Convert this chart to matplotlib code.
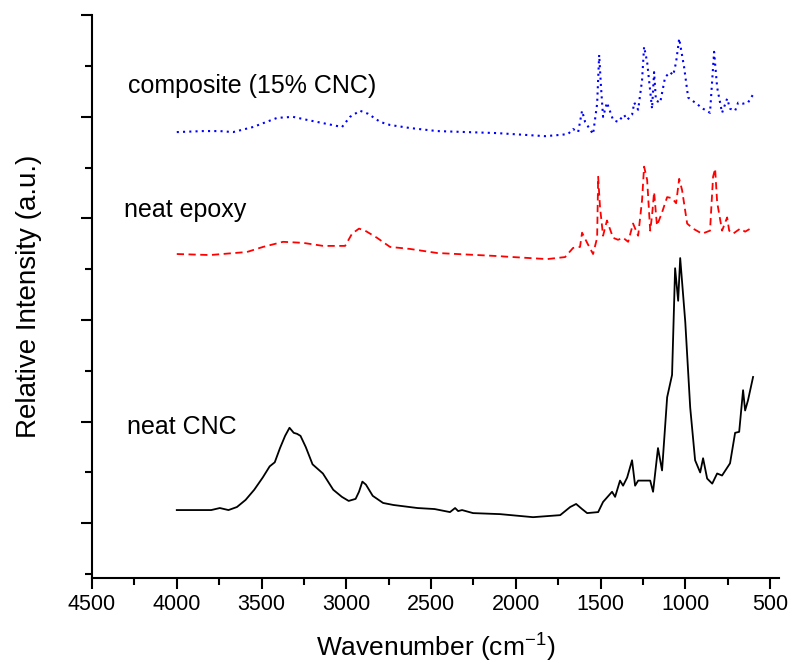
import numpy as np
import matplotlib
matplotlib.use("Agg")
from matplotlib import pyplot as plt
from matplotlib.ticker import MultipleLocator

plt.rcParams['font.family'] = ['Liberation Sans', 'DejaVu Sans']
plt.rcParams['mathtext.default'] = 'regular'

# neat CNC (solid black)
cnc_w = [4000, 3898, 3797, 3746, 3695, 3645, 3594, 3543, 3493, 3452, 3422, 3391, 3361, 3335,
         3310, 3290, 3270, 3239, 3199, 3138, 3077, 3026, 2986, 2945, 2925, 2905, 2884, 2844,
         2783, 2722, 2580, 2479, 2388, 2358, 2340, 2317, 2252, 2093, 1898, 1738, 1679, 1644,
         1609, 1579, 1514, 1485, 1432, 1414, 1385, 1367, 1343, 1314, 1296, 1278, 1207, 1190,
         1161, 1137, 1107, 1078, 1060, 1042, 1030, 1000, 971, 942, 912, 895, 871, 841, 812,
         783, 736, 706, 682, 659, 647, 630, 600]
cnc_i = [.13, .13, .13, .15, .13, .16, .23, .33, .45, .56, .60, .74, .86, .94,
         .89, .88, .86, .75, .58, .49, .33, .26, .22, .24, .31, .41, .38, .27,
         .20, .18, .15, .14, .11, .15, .12, .13, .10, .09, .06, .08, .16, .19,
         .14, .10, .11, .21, .31, .26, .42, .37, .45, .62, .37, .42, .42, .31,
         .74, .52, 1.24, 1.46, 2.51, 2.19, 2.61, 1.98, 1.14, .62, .50, .64, .44, .39, .49,
         .47, .59, .89, .90, 1.31, 1.11, 1.21, 1.44]

# neat epoxy (dashed red)
epo_w = [4000, 3804, 3586, 3491, 3373, 3255, 3137, 3007, 2966, 2925, 2889, 2819, 2742, 2624,
         2464, 2110, 2016, 1815, 1709, 1662, 1621, 1609, 1579, 1544, 1520, 1514, 1503, 1485,
         1462, 1426, 1397, 1367, 1337, 1308, 1278, 1255, 1243, 1225, 1207, 1196, 1184, 1167,
         1137, 1107, 1078, 1054, 1036, 1019, 989, 954, 901, 854, 836, 824, 812, 783, 753,
         741, 718, 676, 647, 606]
epo_i = [2.65, 2.64, 2.67, 2.72, 2.77, 2.76, 2.73, 2.73, 2.85, 2.90, 2.88, 2.81, 2.72, 2.70,
         2.66, 2.63, 2.62, 2.60, 2.62, 2.71, 2.72, 2.86, 2.76, 2.65, 2.81, 3.41, 3.11, 2.83,
         2.98, 2.81, 2.79, 2.81, 2.77, 2.95, 2.83, 3.18, 3.51, 3.38, 2.88, 3.03, 3.26, 2.93,
         3.06, 3.21, 3.20, 3.15, 3.39, 3.28, 2.95, 2.90, 2.85, 2.88, 3.41, 3.49, 3.16, 2.88, 3.01,
         2.88, 2.85, 2.90, 2.87, 2.91]

# composite 15% CNC (dotted blue)
com_w = [4000, 3845, 3746, 3668, 3550, 3408, 3314, 3231, 3113, 3025, 2978, 2919, 2871, 2800,
         2742, 2624, 2464, 2110, 2016, 1827, 1755, 1692, 1662, 1632, 1609, 1591, 1544, 1520,
         1508, 1497, 1485, 1462, 1426, 1397, 1361, 1343, 1314, 1301, 1278, 1255, 1243, 1225,
         1196, 1184, 1173, 1148, 1119, 1090, 1071, 1054, 1036, 1007, 983, 942, 895, 854, 830,
         812, 783, 753, 736, 706, 688, 659, 630, 600]
com_i = [3.85, 3.86, 3.86, 3.85, 3.90, 3.99, 4.00, 3.97, 3.93, 3.90, 4.00, 4.06, 4.03, 3.95,
         3.92, 3.89, 3.86, 3.84, 3.83, 3.81, 3.82, 3.83, 3.88, 3.85, 4.06, 3.95, 3.83, 4.13,
         4.61, 4.29, 4.00, 4.14, 3.97, 3.95, 4.02, 3.97, 4.02, 4.14, 4.07, 4.36, 4.69, 4.54,
         4.08, 4.44, 4.16, 4.14, 4.39, 4.44, 4.41, 4.54, 4.77, 4.49, 4.19, 4.14, 4.08, 4.04, 4.64,
         4.29, 4.04, 4.18, 4.08, 4.06, 4.14, 4.13, 4.14, 4.22]

fig = plt.figure(figsize=(7.92, 6.63), dpi=100)
ax = fig.add_axes([0.1162, 0.128, 0.8674, 0.849])

ax.plot(cnc_w, cnc_i, color='black', lw=1.3)
ax.plot(epo_w, epo_i, color='red', lw=1.3, ls=(0, (4, 2.5)))
ax.plot(com_w, com_i, color='blue', lw=1.5, ls=(0, (1, 2)))

ax.text(4288, 4.23, 'composite (15% CNC)', fontsize=18, va='baseline')
ax.text(4311, 3.01, 'neat epoxy', fontsize=18, va='baseline')
ax.text(4293, 0.88, 'neat CNC', fontsize=18, va='baseline')

ax.set_xlim(4500, 447)
ax.set_ylim(-0.54, 5.0)
ax.xaxis.set_major_locator(MultipleLocator(500))
ax.xaxis.set_minor_locator(MultipleLocator(250))
ax.yaxis.set_major_locator(MultipleLocator(1))
ax.yaxis.set_minor_locator(MultipleLocator(0.5))
ax.tick_params(which='major', direction='out', length=8, width=1.5, labelsize=15.5)
ax.tick_params(which='minor', direction='out', length=5, width=1.5)
ax.tick_params(axis='y', which='both', labelleft=False)
for s in ['top', 'right']:
    ax.spines[s].set_visible(False)
for s in ['left', 'bottom']:
    ax.spines[s].set_linewidth(1.5)

ax.set_xlabel('Wavenumber (cm$^{-1}$)', fontsize=19, labelpad=12)
ax.set_ylabel('Relative Intensity (a.u.)', fontsize=20, labelpad=28)

fig.savefig('out.png', dpi=100)
